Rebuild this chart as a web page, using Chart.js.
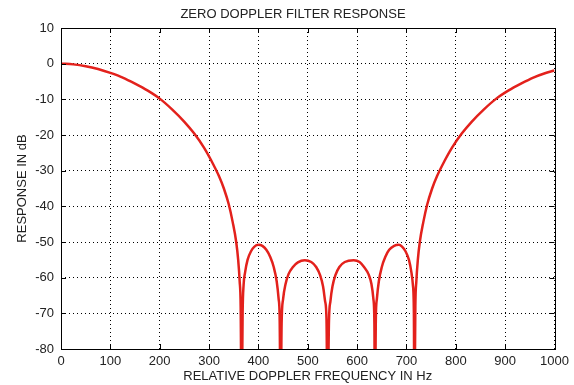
<!DOCTYPE html>
<html>
<head>
<meta charset="utf-8">
<script src="https://cdn.jsdelivr.net/npm/chart.js@4"></script>
<style>
  html, body { margin: 0; padding: 0; background: #fff; }
  #wrap { width: 574px; height: 385px; }
</style>
</head>
<body>
<div id="wrap"><canvas id="filterChart" width="574" height="385"></canvas></div>
<script>
// frequency samples (Hz)
const freqHz = [
  // main lobe, left
  0, 25, 50, 75, 100, 125, 150, 175, 200, 225, 250, 270, 290, 305, 320, 330, 340, 348, 355, 359, 362, 364, 366,
  // sidelobe 1
  368, 370, 373, 378, 385, 392, 400, 408, 416, 424, 431, 437, 441, 443, 445,
  // sidelobe 2
  447, 450, 455, 461, 470, 480, 494, 507, 517, 525, 531, 535, 538, 540,
  // sidelobe 3
  543, 546, 550, 556, 564, 575, 593, 605, 614, 623, 629, 633, 635, 636,
  // sidelobe 4
  638, 640, 644, 650, 657, 665, 675, 684, 691, 698, 705, 710, 713, 715, 716,
  // main lobe, right
  718, 720, 723, 727, 734, 742, 752, 762, 777, 792, 812, 832, 857, 882, 907, 932, 957, 982, 1000
];
// response (dB); nulls go below the axis floor
const responseDb = [
  0, -0.2, -0.7, -1.5, -2.6, -3.9, -5.6, -7.5, -9.8, -12.8, -16.3, -19.6, -23.6, -27.3, -31.5, -35, -39.5, -44.5, -50, -55, -61, -68, -100,
  -70, -62, -58.5, -55, -52.6, -51.3, -50.8, -51.1, -52.2, -54.2, -57, -61, -66, -71, -100,
  -73, -66, -61.8, -59, -57, -55.7, -55.1, -55.6, -57, -59.3, -62.5, -66.5, -72, -100,
  -72, -66.5, -62.5, -59.3, -57, -55.6, -55.1, -55.6, -57, -59, -61.8, -66, -73, -100,
  -71, -66, -61, -57, -54.2, -52.2, -51.1, -50.8, -51.3, -52.6, -55, -58.5, -62, -70, -100,
  -68, -61, -55, -50, -44.5, -39.5, -35, -31.5, -27.3, -23.6, -19.6, -16.3, -12.8, -9.8, -7.5, -5.6, -3.9, -2.6, -1.9
];
const xTicks = [0, 100, 200, 300, 400, 500, 600, 700, 800, 900, 1000];
const yTicks = [10, 0, -10, -20, -30, -40, -50, -60, -70, -80];
const chartTitle = "ZERO DOPPLER FILTER RESPONSE";

const textColor = "#222";
const fontFamily = "'Liberation Sans', Arial, sans-serif";

// title, solid box round the plot and small inward ticks, like matlab
const frameBox = {
  id: "frameBox",
  afterDraw(chart) {
    const { ctx, chartArea: a, scales } = chart;
    ctx.save();
    ctx.fillStyle = textColor;
    ctx.font = "13px " + fontFamily;
    ctx.textAlign = "center";
    ctx.textBaseline = "middle";
    ctx.fillText(chartTitle, 293, 14);

    ctx.strokeStyle = "#000";
    ctx.lineWidth = 1;
    ctx.strokeRect(Math.round(a.left) + 0.5, Math.round(a.top) + 0.5,
      Math.round(a.right - a.left), Math.round(a.bottom - a.top));
    ctx.beginPath();
    xTicks.forEach((v) => {
      const px = Math.round(scales.x.getPixelForValue(v)) + 0.5;
      ctx.moveTo(px, a.bottom); ctx.lineTo(px, a.bottom - 5);
      ctx.moveTo(px, a.top); ctx.lineTo(px, a.top + 5);
    });
    yTicks.forEach((v) => {
      const py = Math.round(scales.y.getPixelForValue(v)) + 0.5;
      ctx.moveTo(a.left, py); ctx.lineTo(a.left + 5, py);
      ctx.moveTo(a.right, py); ctx.lineTo(a.right - 5, py);
    });
    ctx.stroke();
    ctx.restore();
  },
};

new Chart(document.getElementById("filterChart").getContext("2d"), {
  type: "line",
  data: {
    datasets: [{
      data: freqHz.map((f, i) => ({ x: f, y: responseDb[i] })),
      borderColor: "#e3211c",
      borderWidth: 2.5,
      pointRadius: 0,
      cubicInterpolationMode: "monotone",
      fill: false,
    }],
  },
  options: {
    responsive: false,
    animation: false,
    layout: { padding: { left: 0, right: 18, top: 28, bottom: 0 } },
    plugins: {
      legend: { display: false },
      tooltip: { enabled: false },
      title: { display: false },
    },
    scales: {
      x: {
        type: "linear",
        min: 0,
        max: 1000,
        afterBuildTicks: (s) => { s.ticks = xTicks.map((v) => ({ value: v })); },
        afterFit: (s) => { s.height = 36; },
        grid: { color: "#000", lineWidth: 1, drawTicks: false },
        border: { display: false, dash: [1, 3] },
        ticks: {
          color: textColor,
          font: { family: fontFamily, size: 13 },
          padding: 5,
          maxRotation: 0,
          callback: (v) => String(v),
        },
        title: {
          display: true,
          text: "RELATIVE DOPPLER FREQUENCY IN Hz",
          color: textColor,
          font: { family: fontFamily, size: 13 },
          padding: { top: 0, bottom: 1 },
        },
      },
      y: {
        min: -80,
        max: 10,
        afterBuildTicks: (s) => { s.ticks = yTicks.map((v) => ({ value: v })); },
        afterFit: (s) => { s.width = 61; },
        grid: { color: "#000", lineWidth: 1, drawTicks: false },
        border: { display: false, dash: [1, 3] },
        ticks: { color: textColor, font: { family: fontFamily, size: 13 }, padding: 7 },
        title: {
          display: true,
          text: "RESPONSE IN dB",
          color: textColor,
          font: { family: fontFamily, size: 13 },
          padding: { top: 15, bottom: 0 },
        },
      },
    },
  },
  plugins: [frameBox],
});
</script>
</body>
</html>
